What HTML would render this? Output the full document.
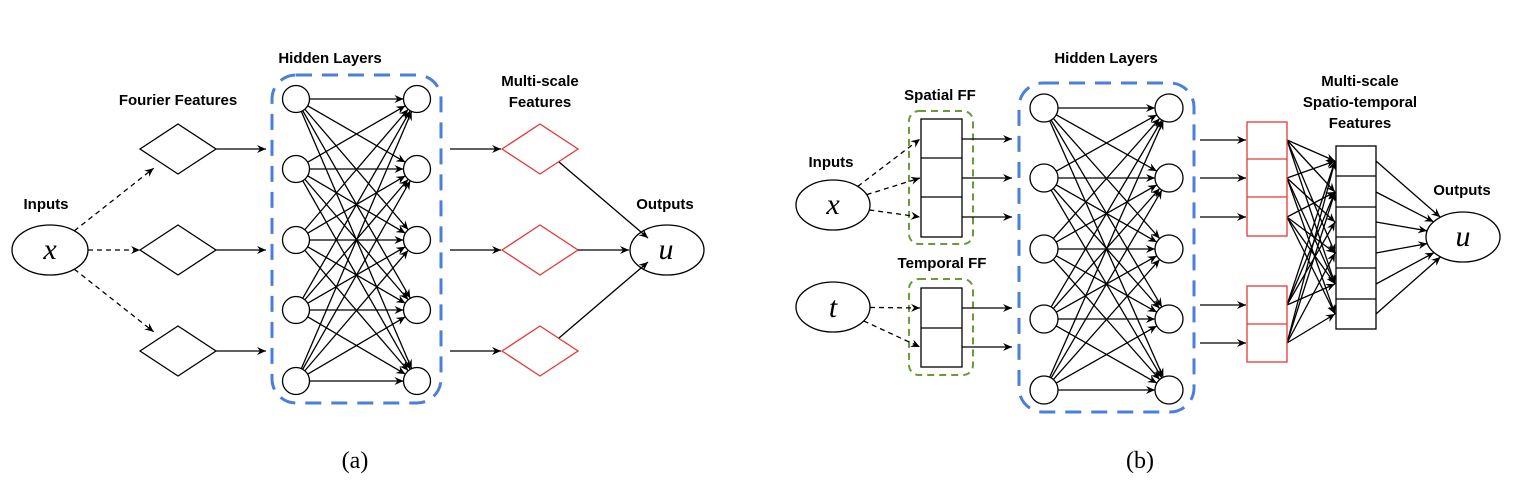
<!DOCTYPE html>
<html><head><meta charset="utf-8"><style>
html,body{margin:0;padding:0;background:#fff;}
svg{display:block;}
.lb{font-family:"Liberation Sans",sans-serif;font-weight:bold;font-size:15px;fill:#000;text-anchor:middle;}
.m{font-family:"Liberation Serif",serif;font-style:italic;font-size:30px;text-anchor:middle;}
.cap{font-family:"Liberation Serif",serif;font-size:24px;text-anchor:middle;}
</style></head><body>
<svg id="s" width="1524" height="490" viewBox="0 0 1524 490" xmlns="http://www.w3.org/2000/svg">
<defs>
<marker id="ar" markerWidth="10" markerHeight="10" refX="9" refY="5" orient="auto" markerUnits="userSpaceOnUse">
<path d="M0,1 L9,5 L0,9 L3,5 Z" fill="#000"/></marker>
</defs>
<g id="g" stroke="#000" stroke-width="1.3" fill="none"></g>
<text class="lb" x="330" y="63">Hidden Layers</text>
<text class="lb" x="178" y="105">Fourier Features</text>
<text class="lb" x="540" y="86">Multi-scale</text>
<text class="lb" x="540" y="107">Features</text>
<text class="lb" x="46" y="209">Inputs</text>
<text class="lb" x="665" y="209">Outputs</text>
<text class="m" x="50" y="259">x</text>
<text class="m" x="666" y="259">u</text>
<text class="lb" x="1106" y="63">Hidden Layers</text>
<text class="lb" x="940" y="100">Spatial FF</text>
<text class="lb" x="942" y="268">Temporal FF</text>
<text class="lb" x="831" y="167">Inputs</text>
<text class="lb" x="1462" y="195">Outputs</text>
<text class="lb" x="1360" y="86">Multi-scale</text>
<text class="lb" x="1360" y="107">Spatio-temporal</text>
<text class="lb" x="1360" y="128">Features</text>
<text class="m" x="833" y="214">x</text>
<text class="m" x="833" y="317">t</text>
<text class="m" x="1463" y="246">u</text>
<text class="cap" x="355" y="468">(a)</text>
<text class="cap" x="1140" y="468">(b)</text>
</svg>
<script>
const g=document.getElementById('g');const NS='http://www.w3.org/2000/svg';
function el(t,a){const e=document.createElementNS(NS,t);for(const k in a)e.setAttribute(k,a[k]);g.appendChild(e);return e;}
function line(x1,y1,x2,y2,o={}){const a={x1,y1,x2,y2,'marker-end':'url(#ar)'};if(o.dash)a['stroke-dasharray']='5,4';if(o.noarrow)delete a['marker-end'];if(o.c)a.stroke=o.c;el('line',a);}
function clip(cx,cy,rx,ry,tx,ty){const dx=tx-cx,dy=ty-cy;const t=1/Math.sqrt((dx*dx)/(rx*rx)+(dy*dy)/(ry*ry));return [cx+dx*t,cy+dy*t];}
function eline(a,b,o){const p=clip(a[0],a[1],a[2],a[3],b[0],b[1]);const q=clip(b[0],b[1],b[2],b[3],a[0],a[1]);line(p[0],p[1],q[0],q[1],o);}
function dia(cx,cy,c){el('path',{d:`M${cx-38},${cy} L${cx},${cy-25} L${cx+38},${cy} L${cx},${cy+25} Z`,stroke:c,fill:'#fff'});}
// panel a
el('rect',{x:272,y:75,width:169,height:328,rx:24,stroke:'#4a7fdc','stroke-width':3,'stroke-dasharray':'16,10'});
const ys=[99,169,240,310,381];
for(const a of ys)for(const b of ys)eline([296,a,13.5,13.5],[417,b,13.5,13.5],{});
for(const y of ys){el('ellipse',{cx:296,cy:y,rx:13.5,ry:13.5,fill:'#fff'});el('ellipse',{cx:417,cy:y,rx:13.5,ry:13.5,fill:'#fff'});}
const dy=[149,250,351];
const X=[50,250,38,25];
dy.forEach(y=>{eline(X,[178,y,38,25],{dash:1});});
dy.forEach(y=>{dia(178,y,'#000');line(216,y,266,y);line(450,y,501,y);dia(540,y,'#e53935');});
line(559,162,648,238);line(578,250,629,250);line(559,338,648,262);
el('ellipse',{cx:50,cy:250,rx:38,ry:25});el('ellipse',{cx:667,cy:250,rx:37,ry:25});
// panel b
el('rect',{x:909,y:111,width:64,height:133,rx:10,stroke:'#6a9a3a','stroke-width':2,'stroke-dasharray':'7,5'});
el('rect',{x:909,y:279,width:64,height:96,rx:10,stroke:'#6a9a3a','stroke-width':2,'stroke-dasharray':'7,5'});
el('rect',{x:921,y:119,width:41,height:118,fill:'#fff'});
line(921,158,962,158,{noarrow:1});line(921,197,962,197,{noarrow:1});
el('rect',{x:921,y:288,width:41,height:79,fill:'#fff'});line(921,328,962,328,{noarrow:1});
[139,178,217].forEach(y=>{const p=clip(833,205,37,25,921,y);line(p[0],p[1],920,y,{dash:1});line(962,y,1012,y);});
[308,347].forEach(y=>{const p=clip(833,307,37,25,921,y);line(p[0],p[1],920,y,{dash:1});line(962,y,1012,y);});
el('rect',{x:1019,y:83,width:175,height:329,rx:24,stroke:'#4a7fdc','stroke-width':3,'stroke-dasharray':'16,10'});
const yb=[108,178,249,319,390];
for(const a of yb)for(const b of yb)eline([1044,a,14,14],[1169,b,14,14],{});
for(const y of yb){el('ellipse',{cx:1044,cy:y,rx:14,ry:14,fill:'#fff'});el('ellipse',{cx:1169,cy:y,rx:14,ry:14,fill:'#fff'});}
const ry=[140,178,217,305,343];
ry.forEach(y=>line(1200,y,1246,y));
const cells=[161,192,222,253,284,314];
const conn=[[0,1,3,4],[0,2,4,5],[1,3,4,5],[0,1,2,4],[0,1,3,5]];
ry.forEach((a,i)=>conn[i].forEach(j=>line(1287,a,1335,cells[j])));
cells.forEach(c=>{eline([1376,c,0.01,0.01],[1463,237,37,25],{});});
el('rect',{x:1247,y:122,width:40,height:114,stroke:'#e53935',fill:'#fff'});
line(1247,159,1287,159,{noarrow:1,c:'#e53935'});line(1247,197,1287,197,{noarrow:1,c:'#e53935'});
el('rect',{x:1247,y:286,width:40,height:76,stroke:'#e53935',fill:'#fff'});
line(1247,324,1287,324,{noarrow:1,c:'#e53935'});
el('rect',{x:1336,y:146,width:40,height:183,fill:'#fff'});
[176,207,237,268,299].forEach(y=>line(1336,y,1376,y,{noarrow:1}));
el('ellipse',{cx:833,cy:205,rx:37,ry:25});el('ellipse',{cx:833,cy:307,rx:37,ry:25});el('ellipse',{cx:1463,cy:237,rx:37,ry:25});
</script>
</body></html>
